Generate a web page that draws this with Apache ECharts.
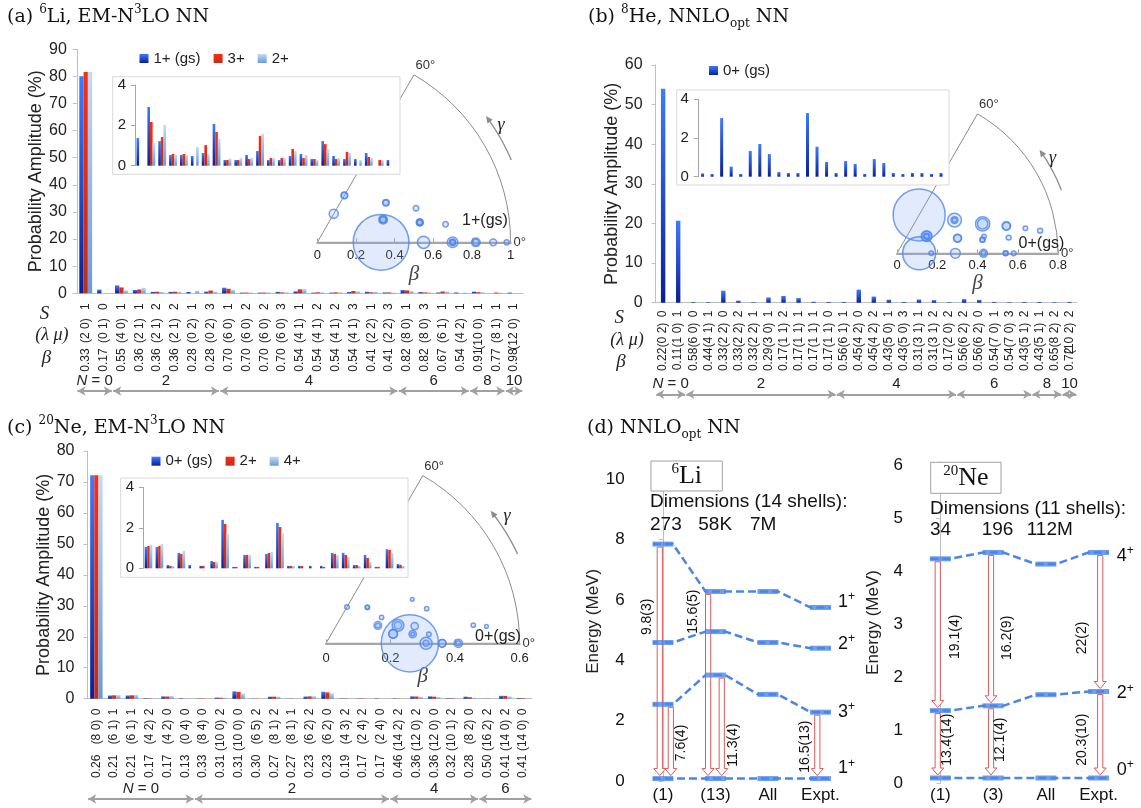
<!DOCTYPE html>
<html>
<head>
<meta charset="utf-8">
<script src="https://cdn.jsdelivr.net/npm/echarts@6/dist/echarts.min.js"></script>
<style>html,body{margin:0;padding:0;background:#fff}#main{width:1141px;height:808px}</style>
</head>
<body>
<div id="main"></div>
<script>
var SANS = '"Liberation Sans", Arial, sans-serif';
var NARROW = '"Liberation Sans Narrow", "Liberation Sans", Arial, sans-serif';
var SERIF = '"DejaVu Serif", serif';
var TIMES = '"Liberation Serif", "Times New Roman", serif';

// ---------- (a) 6Li, EM-N3LO ----------
var betaA = ['0.33','0.17','0.55','0.36','0.36','0.36','0.28','0.28','0.70','0.70','0.70','0.70','0.54','0.54','0.54','0.54','0.41','0.41','0.82','0.82','0.67','0.54','0.91','0.77','0.98'];
var lambdaMuA = ['(2 0)','(0 1)','(4 0)','(2 1)','(2 1)','(2 1)','(0 2)','(0 2)','(6 0)','(6 0)','(6 0)','(6 0)','(4 1)','(4 1)','(4 1)','(4 1)','(2 2)','(2 2)','(8 0)','(8 0)','(6 1)','(4 2)','(10 0)','(8 1)','(12 0)'];
var spinA = ['1','0','1','1','2','2','1','3','1','2','2','3','1','2','2','3','1','3','1','3','1','1','1','1','1'];
var gammaA = [0,60,0,19,19,19,60,60,0,0,0,0,11,11,11,11,30,30,0,0,8,19,0,6,0];
var prob1gsA = [80.1,1.37,2.91,1.22,0.53,0.53,0.48,0.63,2.07,0.28,0.28,0.53,0.73,0.28,0.28,0.48,0.58,0.33,1.22,0.48,0.33,0.33,0.63,0,0.28];
var prob3A = [81.6,0,2.17,1.42,0.58,0.58,0,1.02,1.67,0.28,0.28,0.33,1.47,0.38,0.38,0.83,0.38,0.33,1.07,0.33,0.68,0,0.43,0.28,0];
var prob2A = [81.6,0,1.12,2.02,0.53,0.53,0.93,0.58,1.34,0.35,0.38,0.38,1.57,0.38,0.38,0.73,0.53,0.28,0.83,0.38,0.63,0.28,0.38,0.28,0];
var shellStartA = [0,2,8,18,22,24];
var shellEndA = [1,7,17,21,23,24];
var shellNA = ['0','2','4','6','8','10'];

// ---------- (b) 8He, NNLOopt ----------
var betaB = ['0.22','0.11','0.58','0.44','0.33','0.33','0.33','0.29','0.17','0.17','0.17','0.17','0.56','0.45','0.45','0.43','0.43','0.31','0.31','0.17','0.56','0.56','0.54','0.54','0.43','0.43','0.65','0.72'];
var lambdaMuB = ['(0 2)','(1 0)','(6 0)','(4 1)','(2 2)','(2 2)','(2 2)','(3 0)','(1 1)','(1 1)','(1 1)','(1 1)','(6 1)','(4 2)','(4 2)','(5 0)','(5 0)','(3 1)','(3 1)','(2 0)','(6 2)','(6 2)','(7 0)','(7 0)','(5 1)','(5 1)','(8 2)','(10 2)'];
var spinB = ['0','1','0','1','0','2','1','1','2','1','1','0','1','0','2','1','3','1','2','2','2','0','1','3','2','1','2','2'];
var gammaB = [60,0,0,11,30,30,30,0,30,30,30,30,8,19,19,0,0,14,14,0,14,14,0,0,9,9,11,9];
var prob0gsB = [54,20.7,0.17,0.14,3.03,0.52,0.14,1.33,1.69,1.17,0.24,0.19,0.19,3.29,1.55,0.76,0.19,0.81,0.66,0.14,0.91,0.71,0.19,0.14,0.19,0.19,0.14,0.19];
var shellStartB = [0,2,12,20,25,27];
var shellEndB = [1,11,19,24,26,27];
var shellNB = ['0','2','4','6','8','10'];

// ---------- (c) 20Ne, EM-N3LO ----------
var betaC = ['0.26','0.21','0.21','0.17','0.17','0.13','0.33','0.31','0.31','0.30','0.27','0.27','0.23','0.23','0.19','0.17','0.17','0.46','0.36','0.36','0.32','0.28','0.50','0.41','0.41'];
var lambdaMuC = ['(8 0)','(6 1)','(6 1)','(4 2)','(4 2)','(0 4)','(8 4)','(10 0)','(10 0)','(6 5)','(8 1)','(8 1)','(6 2)','(6 2)','(4 3)','(2 4)','(2 4)','(14 2)','(12 0)','(12 0)','(10 1)','(8 2)','(16 2)','(14 0)','(14 0)'];
var spinC = ['0','1','1','2','0','0','0','2','0','2','2','1','2','0','2','2','0','2','2','0','2','0','2','2','0'];
var gammaC = [0,8,8,19,19,60,19,0,0,27,6,6,14,14,25,41,41,7,0,0,5,11,6,0,0];
var prob0gsC = [72.2,1.05,1.05,0.16,0.76,0.16,0.12,0.36,2.39,0.07,0.66,0.07,0.71,2.24,0.12,0.12,0.12,0.12,0.76,0.76,0.16,0.66,0.07,0.94,0.21];
var prob2C = [72.2,1.1,1.1,0.12,0.71,0,0.12,0.31,2.19,0.07,0.66,0.07,0.76,2.04,0.12,0.12,0,0.07,0.71,0.66,0.16,0.51,0.07,0.91,0.17];
var prob4C = [72.2,1.17,1.2,0.12,0.86,0,0,0.31,1.71,0,0.66,0,0.81,1.73,0.12,0,0,0,0.66,0.56,0.12,0.31,0,0.76,0.12];
var shellStartC = [0,6,17,22];
var shellEndC = [5,16,21,24];
var shellNC = ['0','2','4','6'];

// ---------- (d) spectra ----------
var liCats = ['(1)','(13)','All','Expt.'];
var li1b = [7.85,6.28,6.28,5.75];
var li2 = [4.59,4.95,4.59,4.40];
var li3 = [2.54,3.51,2.87,2.28];
var li1 = [0.08,0.08,0.08,0.08];
var liTrans = [[7.85,0.08],[2.54,0.08],[6.28,0.08],[3.51,0.08],[2.28,0.08]];
var liTransText = ['9.8(3)','7.6(4)','15.6(5)','11.3(4)','16.5(13)'];
var neCats = ['(1)','(3)','All','Expt.'];
var ne4 = [4.23,4.35,4.13,4.35];
var ne2 = [1.37,1.46,1.67,1.73];
var ne0 = [0.1,0.1,0.1,0.1];
var neTrans = [[4.23,1.37],[1.37,0.1],[4.35,1.46],[1.46,0.1],[4.35,1.73],[1.73,0.1]];
var neTransText = ['19.1(4)','13.4(14)','16.2(9)','12.1(4)','22(2)','20.3(10)'];

// layout of the transition arrows: [arrow x, label x, label y] in axis units
var liArrowPos = [[-0.06,-0.31,5.44],[0.15,0.35,1.26],[0.86,0.575,5.61],[1.12,1.34,1.19],[2.94,2.70,1.14]];
var neArrowPos = [[-0.05,0.28,2.76],[-0.05,0.125,0.82],[0.96,1.26,2.74],[0.96,1.13,0.82],[3.03,2.68,2.74],[3.03,2.68,0.82]];

var grids = [], xAxes = [], yAxes = [], series = [];
var polars = [], angleAxes = [], radiusAxes = [], graphics = [];

function grad(top, bottom) {
    return new echarts.graphic.LinearGradient(0, 0, 0, 1, [{offset: 0, color: top}, {offset: 1, color: bottom}]);
}
var BLUE = grad('#3d7bff', '#0b1f95');
var RED = grad('#ff2b0d', '#bd2d1f');
var LIGHT = grad('#c2dbf7', '#6a9ad6');

function txt(x, y, str, font, extra) {
    var el = {type: 'text', x: x, y: y, z: 8, silent: true,
        style: {text: str, font: font, fill: '#222', align: 'center', verticalAlign: 'middle',
            textAlign: 'center', textVerticalAlign: 'middle'}};
    if (extra) { for (var k in extra) { el.style[k] = extra[k]; } }
    return el;
}

// bar chart panel with inset, shell arrows and three label rows
function barPanel(p) {
    var g = grids.push({left: p.left, top: p.top, width: p.width, height: p.height}) - 1;
    var lab = {interval: 0, rotate: 90, fontSize: 12, fontFamily: SANS, color: '#222'};
    var xs = xAxes.push({type: 'category', gridIndex: g, position: 'bottom', data: p.spin,
        axisLine: {lineStyle: {color: '#bfbfbf'}}, axisTick: {length: 5, lineStyle: {color: '#bfbfbf'}},
        axisLabel: Object.assign({margin: p.rows[0]}, lab)}) - 1;
    xAxes.push({type: 'category', gridIndex: g, position: 'bottom', data: p.lm,
        axisLine: {show: false}, axisTick: {show: false}, axisLabel: Object.assign({margin: p.rows[1]}, lab)});
    xAxes.push({type: 'category', gridIndex: g, position: 'bottom', data: p.beta,
        axisLine: {show: false}, axisTick: {show: false}, axisLabel: Object.assign({margin: p.rows[2]}, lab)});
    var ys = yAxes.push({type: 'value', gridIndex: g, min: 0, max: p.yMax, interval: 10,
        name: 'Probability Amplitude (%)', nameLocation: 'middle', nameGap: p.nameGap,
        nameTextStyle: {fontSize: 18, fontFamily: SANS, color: '#222'},
        axisLine: {show: true, lineStyle: {color: '#bfbfbf'}},
        axisTick: {show: true, length: 4, lineStyle: {color: '#bfbfbf'}},
        splitLine: {show: false},
        axisLabel: {fontSize: 16, fontFamily: NARROW, color: '#222', margin: p.yMargin}}) - 1;

    // inset
    var gi = grids.push({left: p.inset[0], top: p.inset[1], width: p.inset[2], height: p.inset[3]}) - 1;
    var xi = xAxes.push({type: 'category', gridIndex: gi, data: p.beta.slice(p.from), show: false, z: 7}) - 1;
    var yi = yAxes.push({type: 'value', gridIndex: gi, min: 0, max: 4, interval: 2, z: 7,
        axisLine: {show: true, lineStyle: {color: '#a6a6a6'}},
        axisTick: {show: true, length: 4, lineStyle: {color: '#a6a6a6'}},
        splitLine: {show: false},
        axisLabel: {fontSize: 15, fontFamily: NARROW, color: '#222', margin: p.insetMargin}}) - 1;
    graphics.push({type: 'rect', z: 5, silent: true,
        shape: {x: p.box[0], y: p.box[1], width: p.box[2], height: p.box[3]},
        style: {fill: '#fff', stroke: '#d9d9d9', lineWidth: 1}});

    p.series.forEach(function (s) {
        var main = {type: 'bar', name: s.name, xAxisIndex: xs, yAxisIndex: ys, data: s.data,
            itemStyle: {color: s.color}, barGap: '0%', silent: true};
        var ins = {type: 'bar', name: s.name, xAxisIndex: xi, yAxisIndex: yi, data: s.data.slice(p.from),
            itemStyle: {color: s.color}, barGap: '0%', z: 7, silent: true};
        if (p.barWidth) { main.barWidth = p.barWidth; ins.barWidth = p.insetBarWidth; }
        else { main.barCategoryGap = p.catGap; ins.barCategoryGap = p.catGap; }
        series.push(main, ins);
    });

    // shell (N) arrows
    var ga = grids.push({left: p.left, top: p.arrowY - 10, width: p.width, height: 20}) - 1;
    var xa = xAxes.push({type: 'value', gridIndex: ga, min: -0.5, max: p.beta.length - 0.5, show: false}) - 1;
    var ya = yAxes.push({type: 'value', gridIndex: ga, min: 0, max: 1, show: false}) - 1;
    var ml = p.nStart.map(function (s, i) {
        return [{coord: [s - 0.46, 0.5], name: (i === 0 ? '{i|N} = ' : '') + p.nLab[i]},
                {coord: [p.nEnd[i] + 0.46, 0.5]}];
    });
    series.push({type: 'line', xAxisIndex: xa, yAxisIndex: ya, data: [], silent: true,
        markLine: {silent: true, symbol: ['arrow', 'arrow'], symbolSize: [7, 8],
            lineStyle: {color: '#a0a0a0', width: 2, type: 'solid'},
            label: {show: true, position: 'insideMiddleTop', distance: 3, formatter: function (pr) { return pr.name; },
                fontSize: 15, fontFamily: NARROW, color: '#222',
                rich: {i: {fontStyle: 'italic', fontSize: 15, fontFamily: NARROW, color: '#222'}}},
            data: ml}});
}

// curved gamma arrow drawn through the polar coordinate system
function gammaArrow(params, api) {
    var r = api.value(0), a0 = api.value(1), a1 = api.value(2);
    var pts = [];
    for (var t = 0; t <= 10; t++) { pts.push(api.coord([r, a0 + (a1 - a0) * t / 10])); }
    var p1 = pts[10], p0 = pts[9];
    var dx = p1[0] - p0[0], dy = p1[1] - p0[1], len = Math.sqrt(dx * dx + dy * dy) || 1;
    var ux = dx / len, uy = dy / len;
    var tip = [p1[0] + ux * 3, p1[1] + uy * 3], base = [p1[0] - ux * 4, p1[1] - uy * 4];
    return {type: 'group', children: [
        {type: 'polyline', shape: {points: pts}, style: {stroke: '#8c8c8c', lineWidth: 1.3, fill: null}},
        {type: 'polygon', shape: {points: [tip, [base[0] - uy * 3.2, base[1] + ux * 3.2], [base[0] + uy * 3.2, base[1] - ux * 3.2]]},
            style: {fill: '#8c8c8c'}}
    ]};
}

// beta-gamma plane
function polarPanel(q) {
    var pi = polars.push({center: [q.cx, q.cy], radius: q.r}) - 1;
    angleAxes.push({polarIndex: pi, type: 'value', min: 0, max: 60, interval: 60,
        startAngle: 0, endAngle: 60, clockwise: false,
        axisLine: {show: true, lineStyle: {color: '#8c8c8c', width: 1}},
        axisTick: {show: false},
        splitLine: {show: true, lineStyle: {color: '#8c8c8c', width: 1}},
        axisLabel: {formatter: '{value}°', fontSize: 13, fontFamily: NARROW, color: '#333', margin: 3}});
    radiusAxes.push({polarIndex: pi, type: 'value', min: 0, max: q.max,
        axisLine: {show: false}, axisTick: {show: false}, axisLabel: {show: false}, splitLine: {show: false}});
    var pts = [];
    q.prob.forEach(function (v, i) {
        if (v > 0) { pts.push([parseFloat(q.beta[i]), q.gamma[i], v]); }
    });
    series.push({type: 'scatter', coordinateSystem: 'polar', polarIndex: pi, data: pts, silent: true, z: 3,
        symbolSize: function (v) { return 2 + q.k * Math.sqrt(v[2]); },
        itemStyle: {color: 'rgba(120,165,245,0.28)', borderColor: '#4f86ee', borderWidth: 1.5}});
    series.push({type: 'custom', coordinateSystem: 'polar', polarIndex: pi, silent: true, z: 3,
        data: [q.arrow], renderItem: gammaArrow});
    // beta axis as a flat cartesian axis lying on the 0 degree line
    var gb = grids.push({left: q.cx, top: q.cy - 1, width: q.r, height: 1}) - 1;
    xAxes.push({type: 'value', gridIndex: gb, min: 0, max: q.max, interval: 0.2,
        name: 'β', nameLocation: 'middle', nameGap: q.nameGap,
        nameTextStyle: {fontFamily: TIMES, fontStyle: 'italic', fontSize: 21, color: '#444'},
        axisLine: {lineStyle: {color: '#a6a6a6', width: 2}},
        axisTick: {inside: true, length: 4, lineStyle: {color: '#a6a6a6'}},
        splitLine: {show: false},
        axisLabel: {fontSize: 13, fontFamily: NARROW, color: '#222', margin: q.labMargin}});
    yAxes.push({type: 'value', gridIndex: gb, show: false});
}

function arrowRender(labels, pos) {
    return function (params, api) {
        var ap = pos[params.dataIndex];
        var top = api.coord([ap[0], api.value(0)]);
        var bot = api.coord([ap[0], api.value(1)]);
        var lp = api.coord([ap[1], ap[2]]);
        var x = top[0], y0 = top[1] + 3, y1 = bot[1] - 3;
        var sw = 2.6, hw = 6, hl = 7;
        return {type: 'group', children: [
            {type: 'polygon', shape: {points: [[x - sw, y0], [x + sw, y0], [x + sw, y1 - hl], [x + hw, y1 - hl],
                [x, y1], [x - hw, y1 - hl], [x - sw, y1 - hl]]},
                style: {fill: '#fff', stroke: '#dd5a5a', lineWidth: 1}},
            {type: 'text', x: lp[0], y: lp[1], rotation: Math.PI / 2,
                style: {text: labels[params.dataIndex], font: '14px ' + SANS, fill: '#111',
                    align: 'center', verticalAlign: 'middle', textAlign: 'center', textVerticalAlign: 'middle'}}
        ]};
    };
}

function levelPanel(o) {
    var g = grids.push({left: o.left, top: o.top, width: o.width, height: o.height}) - 1;
    xAxes.push({type: 'category', gridIndex: g, data: o.cats, axisLine: {show: false}, axisTick: {show: false},
        axisLabel: {fontSize: 17, fontFamily: SANS, margin: o.xMargin, color: '#111'}});
    var xv = xAxes.push({type: 'value', gridIndex: g, min: -0.5, max: 3.5, show: false}) - 1;
    var yv = yAxes.push({type: 'value', gridIndex: g, min: 0, max: o.yMax, interval: o.interval,
        name: 'Energy (MeV)', nameLocation: 'middle', nameGap: o.nameGap,
        nameTextStyle: {fontSize: 17, fontFamily: SANS, color: '#222'},
        axisLine: {show: true, lineStyle: {color: '#bfbfbf'}},
        axisTick: {show: true, length: 4, lineStyle: {color: '#bfbfbf'}},
        splitLine: {show: false},
        axisLabel: {fontSize: 17, fontFamily: SANS, color: '#111', margin: o.yMargin, showMaxLabel: false}}) - 1;
    o.states.forEach(function (st) {
        var pts = [];
        st.forEach(function (e, i) { pts.push([i - 0.19, e], [i + 0.19, e]); });
        series.push({type: 'line', xAxisIndex: xv, yAxisIndex: yv, data: pts, symbol: 'none', silent: true, z: 3,
            lineStyle: {color: '#4a86e8', width: 2.5, type: [8, 4]}});
        series.push({type: 'scatter', xAxisIndex: xv, yAxisIndex: yv, silent: true, z: 5,
            data: st.map(function (e, i) { return [i, e]; }),
            symbol: 'rect', symbolSize: [21, 5], itemStyle: {color: '#4a86e8'}});
    });
    series.push({type: 'custom', xAxisIndex: xv, yAxisIndex: yv, silent: true, z: 4,
        data: o.trans, renderItem: arrowRender(o.transText, o.arrowPos)});
}

barPanel({left: 76.8, top: 49.3, width: 446.2, height: 244, yMax: 90, nameGap: 29, yMargin: 10,
    rows: [10, 25, 55], spin: spinA, lm: lambdaMuA, beta: betaA, catGap: '28%',
    inset: [135, 85, 261, 80.7], box: [112.7, 76.7, 287.3, 97.6], from: 1, insetMargin: 9,
    arrowY: 391, nStart: shellStartA, nEnd: shellEndA, nLab: shellNA,
    series: [{name: '1+ (gs)', data: prob1gsA, color: BLUE}, {name: '3+', data: prob3A, color: RED},
             {name: '2+', data: prob2A, color: LIGHT}]});
barPanel({left: 655.6, top: 65, width: 421.4, height: 237.7, yMax: 60, nameGap: 31, yMargin: 13,
    rows: [8, 20, 45], spin: spinB, lm: lambdaMuB, beta: betaB, barWidth: 4.4, insetBarWidth: 3,
    inset: [697.8, 99.3, 248, 77.4], box: [676.7, 90, 272.3, 95], from: 2, insetMargin: 9,
    arrowY: 394.3, nStart: shellStartB, nEnd: shellEndB, nLab: shellNB,
    series: [{name: '0+ (gs)', data: prob0gsB, color: BLUE}]});
barPanel({left: 87.5, top: 451, width: 444.5, height: 247.7, yMax: 80, nameGap: 32, yMargin: 13,
    rows: [10, 21, 56], spin: spinC, lm: lambdaMuC, beta: betaC, catGap: '30%',
    inset: [143, 487.3, 263, 81], box: [120.7, 478, 287.3, 99.3], from: 1, insetMargin: 9,
    arrowY: 800, nStart: shellStartC, nEnd: shellEndC, nLab: shellNC,
    series: [{name: '0+ (gs)\u200b', data: prob0gsC, color: BLUE}, {name: '2+\u200b', data: prob2C, color: RED},
             {name: '4+', data: prob4C, color: LIGHT}]});

polarPanel({cx: 317.3, cy: 242.3, r: 193.3, max: 1, k: 6.0, beta: betaA, gamma: gammaA, prob: prob1gsA,
    arrow: [1.09, 23, 36], nameGap: 22, labMargin: 7});
polarPanel({cx: 897, cy: 253.3, r: 161, max: 0.8, k: 6.8, beta: betaB, gamma: gammaB, prob: prob0gsB,
    arrow: [0.875, 21, 35], nameGap: 16, labMargin: 6});
polarPanel({cx: 326, cy: 643.3, r: 193.6, max: 0.6, k: 6.5, beta: betaC, gamma: gammaC, prob: prob0gsC,
    arrow: [0.655, 25, 38], nameGap: 19, labMargin: 9});

levelPanel({left: 636.7, top: 461.7, width: 210, height: 319.3, yMax: 10.58, interval: 2, nameGap: 33,
    yMargin: 12, xMargin: 6, cats: liCats, states: [li1b, li2, li3, li1],
    trans: liTrans, transText: liTransText, arrowPos: liArrowPos});
levelPanel({left: 914, top: 461.7, width: 211, height: 321.6, yMax: 6.06, interval: 1, nameGap: 32,
    yMargin: 11, xMargin: 4, cats: neCats, states: [ne4, ne2, ne0],
    trans: neTrans, transText: neTransText, arrowPos: neArrowPos});

// row captions, in-plot labels
var rowFont = 'italic 19px ' + TIMES;
graphics.push(
    txt(44.6, 314, 'S', rowFont), txt(51.8, 335, '(λ μ)', 'italic 18px ' + TIMES), txt(46.4, 358, 'β', rowFont),
    txt(619.3, 318.3, 'S', rowFont), txt(627, 340, '(λ μ)', 'italic 18px ' + TIMES), txt(621, 361.7, 'β', rowFont),
    txt(485, 220.7, '1+(gs)', '16px ' + NARROW), txt(1041.5, 243.3, '0+(gs)', '16px ' + NARROW),
    txt(498, 636.7, '0+(gs)', '16px ' + NARROW),
    txt(501, 125, 'γ', 'italic 18px ' + TIMES), txt(1052.6, 158, 'γ', 'italic 18px ' + TIMES),
    txt(507, 516.7, 'γ', 'italic 18px ' + TIMES)
);

// (d) boxes, dimensions and state labels
var nucRich = {s: {fontSize: 15, fontFamily: TIMES, verticalAlign: 'top', lineHeight: 14, fill: '#111'},
               n: {fontSize: 26, fontFamily: TIMES, lineHeight: 28, fill: '#111'}};
graphics.push(
    {type: 'rect', z: 6, silent: true, shape: {x: 651, y: 461, width: 71.3, height: 30},
        style: {fill: '#fff', stroke: '#a0a0a0', lineWidth: 1}},
    txt(686.7, 476, '{s|6}{n|Li}', '26px ' + TIMES, {rich: nucRich}),
    {type: 'rect', z: 6, silent: true, shape: {x: 930.7, y: 462.3, width: 70.3, height: 31},
        style: {fill: '#fff', stroke: '#a0a0a0', lineWidth: 1}},
    txt(965.8, 478, '{s|20}{n|Ne}', '26px ' + TIMES, {rich: nucRich})
);
var dimFont = '19px ' + SANS;
var left = {align: 'left', textAlign: 'left', fill: '#111'};
graphics.push(
    txt(650, 501.7, 'Dimensions (14 shells):', dimFont, left),
    txt(650, 525, '273', dimFont, left), txt(698.3, 525, '58K', dimFont, left), txt(750, 525, '7M', dimFont, left),
    txt(930, 508.3, 'Dimensions (11 shells):', dimFont, left),
    txt(930, 530, '34', dimFont, left), txt(981.7, 530, '196', dimFont, left), txt(1026.7, 530, '112M', dimFont, left)
);
var jRich = {n: {fontSize: 18, fontFamily: SANS, lineHeight: 22, fill: '#111'},
             p: {fontSize: 12, fontFamily: SANS, verticalAlign: 'top', lineHeight: 12, fill: '#111'}};
function stateLabel(x, y, j) {
    return txt(x, y, '{n|' + j + '}{p|+}', '18px ' + SANS, {align: 'left', textAlign: 'left', rich: jRich});
}
graphics.push(
    stateLabel(838, 601.7, '1'), stateLabel(838, 644, '2'), stateLabel(838, 711.7, '3'), stateLabel(838, 768.3, '1'),
    stateLabel(1116.7, 556, '4'), stateLabel(1116.7, 693.3, '2'), stateLabel(1116.7, 770, '0')
);

var titleStyle = {fontFamily: SERIF, fontSize: 19, fontWeight: 'normal', color: '#111', lineHeight: 26,
    rich: {sup: {fontFamily: SERIF, fontSize: 12, verticalAlign: 'top', lineHeight: 12, color: '#111'},
           sub: {fontFamily: SERIF, fontSize: 12, verticalAlign: 'bottom', lineHeight: 12, color: '#111'}}};
var titles = [
    {text: '(a) {sup|6}Li, EM-N{sup|3}LO NN', left: 7, top: 4, padding: 0, textStyle: titleStyle},
    {text: '(b) {sup|8}He, NNLO{sub|opt} NN', left: 588, top: 4, padding: 0, textStyle: titleStyle},
    {text: '(c) {sup|20}Ne, EM-N{sup|3}LO NN', left: 7, top: 415, padding: 0, textStyle: titleStyle},
    {text: '(d) NNLO{sub|opt} NN', left: 587, top: 415, padding: 0, textStyle: titleStyle}
];

var legendBase = {icon: 'rect', itemWidth: 9, itemHeight: 9, itemGap: 13, selectedMode: false, padding: 0,
    textStyle: {fontSize: 15, fontFamily: NARROW, color: '#222'}};
var legends = [
    Object.assign({data: ['1+ (gs)', '3+', '2+'], left: 139.5, top: 51}, legendBase),
    Object.assign({data: ['0+ (gs)'], left: 709, top: 63}, legendBase),
    Object.assign({data: ['0+ (gs)\u200b', '2+\u200b', '4+'], left: 151.5, top: 453.7}, legendBase)
];

var chart = echarts.init(document.getElementById('main'));
chart.setOption({
    backgroundColor: '#fff',
    animation: false,
    title: titles,
    legend: legends,
    grid: grids,
    xAxis: xAxes,
    yAxis: yAxes,
    polar: polars,
    angleAxis: angleAxes,
    radiusAxis: radiusAxes,
    series: series,
    graphic: {elements: graphics}
});
</script>
</body>
</html>
